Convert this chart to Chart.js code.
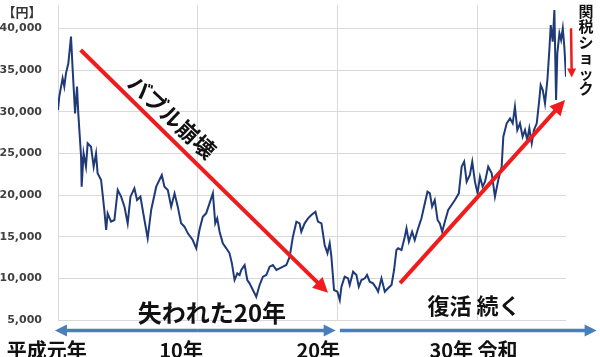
<!DOCTYPE html>
<html lang="ja">
<head>
<meta charset="utf-8">
<title>日経平均 平成～令和</title>
<script src="https://cdn.jsdelivr.net/npm/chart.js@4.4.1/dist/chart.umd.min.js"></script>
<style>
  html, body { margin: 0; padding: 0; background: #fff; }
  canvas { display: block; }
</style>
</head>
<body>
<canvas id="chart" width="600" height="357"></canvas>
<script>
// 時期（年、小数）と株価（円）
const years = [
  1989.00, 1989.09, 1989.33, 1989.45, 1989.57, 1989.74, 1989.93, 1990.05, 1990.22, 1990.36,
  1990.45, 1990.65, 1990.69, 1990.83, 1991.00, 1991.12, 1991.36, 1991.55, 1991.72, 1991.83,
  1992.08, 1992.31, 1992.44, 1992.55, 1992.79, 1993.03, 1993.27, 1993.51, 1993.75, 1993.98,
  1994.18, 1994.46, 1994.65, 1994.89, 1995.18, 1995.41, 1995.66, 1996.02, 1996.42, 1996.61,
  1996.85, 1997.09, 1997.33, 1997.56, 1997.80, 1998.04, 1998.28, 1998.63, 1998.88, 1999.11,
  1999.35, 1999.59, 1999.83, 2000.07, 2000.24, 2000.38, 2000.55, 2000.78, 2001.03, 2001.26,
  2001.43, 2001.62, 2001.82, 2001.98, 2002.10, 2002.34, 2002.53, 2002.69, 2002.93, 2003.17,
  2003.41, 2003.65, 2003.89, 2004.13, 2004.36, 2004.61, 2004.84, 2005.08, 2005.32, 2005.56,
  2005.79, 2006.04, 2006.27, 2006.39, 2006.63, 2006.87, 2007.11, 2007.40, 2007.58, 2007.83,
  2008.06, 2008.26, 2008.42, 2008.54, 2008.73, 2008.97, 2009.14, 2009.26, 2009.49, 2009.73,
  2009.85, 2010.09, 2010.33, 2010.50, 2010.69, 2010.93, 2011.09, 2011.28, 2011.52, 2011.76,
  2011.88, 2012.12, 2012.36, 2012.59, 2012.84, 2013.02, 2013.19, 2013.31, 2013.55, 2013.79,
  2013.91, 2014.08, 2014.31, 2014.50, 2014.74, 2014.98, 2015.22, 2015.41, 2015.58, 2015.74,
  2015.93, 2016.13, 2016.29, 2016.46, 2016.65, 2016.89, 2017.13, 2017.37, 2017.65, 2017.85,
  2018.03, 2018.21, 2018.44, 2018.61, 2018.80, 2018.99, 2019.16, 2019.35, 2019.52, 2019.75,
  2020.00, 2020.23, 2020.47, 2020.71, 2020.83, 2021.07, 2021.31, 2021.50, 2021.66, 2021.83,
  2022.02, 2022.21, 2022.38, 2022.54, 2022.69, 2022.86, 2023.02, 2023.22, 2023.40, 2023.50,
  2023.65, 2023.81, 2023.98, 2024.12, 2024.22, 2024.36, 2024.48, 2024.60, 2024.69, 2024.84,
  2024.96, 2025.08, 2025.19, 2025.31
];
const prices = [
  30200, 31800, 34000, 33000, 34600, 35800, 39000, 35000, 29800, 33000,
  29800, 24600, 21000, 25000, 23400, 26200, 25800, 23400, 25000, 22600,
  21800, 18200, 15800, 17800, 16800, 17000, 20600, 19800, 18600, 16600,
  19800, 20800, 19400, 19800, 17000, 14800, 18200, 21000, 22400, 21000,
  20600, 18600, 20200, 18600, 16600, 16200, 15400, 14600, 13600, 15800,
  17400, 17800, 19000, 20200, 16600, 17200, 15600, 14200, 13600, 13000,
  11800, 9800, 10600, 10400, 11000, 11600, 9800, 9400, 8600, 7800,
  9200, 10200, 10400, 11400, 11600, 11000, 11200, 11400, 11600, 12600,
  15000, 16800, 16600, 15600, 16600, 17200, 17600, 18000, 16800, 16600,
  14000, 13000, 14200, 12600, 8600, 8400, 7400, 9000, 10200, 10000,
  9200, 10800, 10400, 9000, 9800, 10000, 10400, 9600, 9400, 8800,
  8400, 10000, 8400, 8800, 9200, 11000, 13400, 13600, 13400, 15000,
  16000, 14400, 15600, 14600, 16000, 17200, 19000, 20400, 20200, 18600,
  19400, 17000, 16600, 15600, 16800, 18200, 18800, 19400, 20200, 23400,
  24000, 21600, 22400, 24000, 21600, 20200, 22200, 21000, 21600, 23400,
  22600, 19800, 21800, 23400, 27000, 28600, 29200, 28600, 30600, 27800,
  28600, 27000, 27800, 26600, 28000, 26200, 27800, 28600, 31400, 33200,
  32600, 31000, 33800, 37400, 40400, 38400, 42200, 31400, 37000, 39400,
  38600, 40000, 37800, 34200
];
const yTicks = [5000, 10000, 15000, 20000, 25000, 30000, 35000, 40000];
const gridYears = [1989, 1999, 2009, 2019];
const eraLabels = ['平成元年', '10年', '20年', '30年 令和'];
const eraLabelYears = [1988.2, 1997.8, 2007.6, 2018.7];

const RED = '#ee1c1c';
const BLUE = '#4a7ebb';
const JP = '"Noto Sans CJK JP", "Noto Sans", sans-serif';

function drawArrow(ctx, x1, y1, x2, y2, color, width, head) {
    const ang = Math.atan2(y2 - y1, x2 - x1);
    const cos = Math.cos(ang), sin = Math.sin(ang);
    ctx.strokeStyle = color;
    ctx.fillStyle = color;
    ctx.lineWidth = width;
    ctx.beginPath();
    ctx.moveTo(x1, y1);
    ctx.lineTo(x2 - cos * head * 0.8, y2 - sin * head * 0.8);
    ctx.stroke();
    ctx.beginPath();
    ctx.moveTo(x2, y2);
    ctx.lineTo(x2 - head * cos + head * 0.5 * sin, y2 - head * sin - head * 0.5 * cos);
    ctx.lineTo(x2 - head * cos - head * 0.5 * sin, y2 - head * sin + head * 0.5 * cos);
    ctx.closePath();
    ctx.fill();
}

// 矢印と注釈
const annotations = {
    id: 'annotations',
    afterDraw(chart) {
        const { ctx, chartArea } = chart;
        const x = chart.scales.x, y = chart.scales.y;
        const px = v => x.getPixelForValue(v);
        const py = v => y.getPixelForValue(v);
        ctx.save();

        // 単位
        ctx.fillStyle = '#333';
        ctx.font = 'bold 13px ' + JP;
        ctx.textAlign = 'center';
        ctx.textBaseline = 'middle';
        ctx.fillText('【円】', 22, 12);

        // 赤い矢印
        ctx.lineCap = 'butt';
        drawArrow(ctx, px(1990.62), py(37400), px(2008.30), py(8260), RED, 4, 15);
        drawArrow(ctx, px(2013.45), py(9425), px(2025.24), py(31400), RED, 4, 15);
        drawArrow(ctx, px(2025.67), py(40000), px(2025.72), py(34100), RED, 2.5, 9);

        // バブル崩壊
        ctx.fillStyle = '#111';
        ctx.save();
        ctx.translate(px(1997.15), py(29360));
        ctx.rotate(43 * Math.PI / 180);
        ctx.font = 'bold 22px ' + JP;
        ctx.fillText('バブル崩壊', 0, 0);
        ctx.restore();

        ctx.font = 'bold 24px ' + JP;
        ctx.fillText('失われた20年', px(2000.0), py(5860));
        ctx.font = 'bold 22px ' + JP;
        ctx.fillText('復活 続く', px(2018.74), py(6700));

        // 関税ショック（縦書き）
        ctx.font = 'bold 15px ' + JP;
        const tariff = '関税ショック';
        for (let i = 0; i < tariff.length; i++) {
            ctx.fillText(tariff[i], 586, 11 + i * 15.5);
        }

        // 下の青い矢印
        const ay = chartArea.bottom + 10.5;
        drawArrow(ctx, px(1999), ay, px(1988.78), ay, BLUE, 3.5, 12);
        drawArrow(ctx, px(1999), ay, px(2008.85), ay, BLUE, 3.5, 12);
        drawArrow(ctx, px(2009.15), ay, px(2027.5), ay, BLUE, 3.5, 12);

        // 元号ラベル
        ctx.fillStyle = '#111';
        ctx.font = 'bold 20px ' + JP;
        eraLabels.forEach((t, i) => {
            ctx.fillText(t, px(eraLabelYears[i]), chartArea.bottom + 30);
        });

        ctx.restore();
    }
};

window.onload = () => {
    const ctx = document.getElementById('chart').getContext('2d');
    const points = years.map((yr, i) => ({ x: yr, y: prices[i] }));

    new Chart(ctx, {
        type: 'line',
        data: {
            datasets: [{
                data: points,
                borderColor: '#1f3a78',
                borderWidth: 2,
                pointRadius: 0,
                tension: 0,
                fill: false
            }]
        },
        options: {
            responsive: false,
            animation: false,
            layout: { padding: { top: 5, right: 34, bottom: 37, left: 0 } },
            plugins: {
                legend: { display: false },
                tooltip: { enabled: false }
            },
            scales: {
                x: {
                    type: 'linear',
                    min: 1989,
                    max: 2025.31,
                    afterBuildTicks: s => { s.ticks = gridYears.map(v => ({ value: v })); },
                    afterFit: s => {
                        s.height = 0;
                        s.paddingLeft = 0; s.paddingRight = 0;
                        s.paddingTop = 0; s.paddingBottom = 0;
                    },
                    ticks: { display: false },
                    grid: { color: '#d9d9d9', drawTicks: false },
                    border: { display: false }
                },
                y: {
                    min: 5000,
                    max: 42800,
                    afterBuildTicks: s => { s.ticks = yTicks.map(v => ({ value: v })); },
                    afterFit: s => {
                        s.width = 58;
                        s.paddingTop = 0; s.paddingBottom = 0;
                        s.paddingLeft = 0; s.paddingRight = 0;
                    },
                    ticks: {
                        padding: 16,
                        color: '#404040',
                        font: { family: 'DejaVu Sans', weight: 'bold', size: 11 },
                        callback: v => v.toLocaleString('en-US')
                    },
                    grid: { color: '#d9d9d9', drawTicks: false },
                    border: { display: true, color: '#d9d9d9' }
                }
            }
        },
        plugins: [annotations]
    });
};
</script>
</body>
</html>
